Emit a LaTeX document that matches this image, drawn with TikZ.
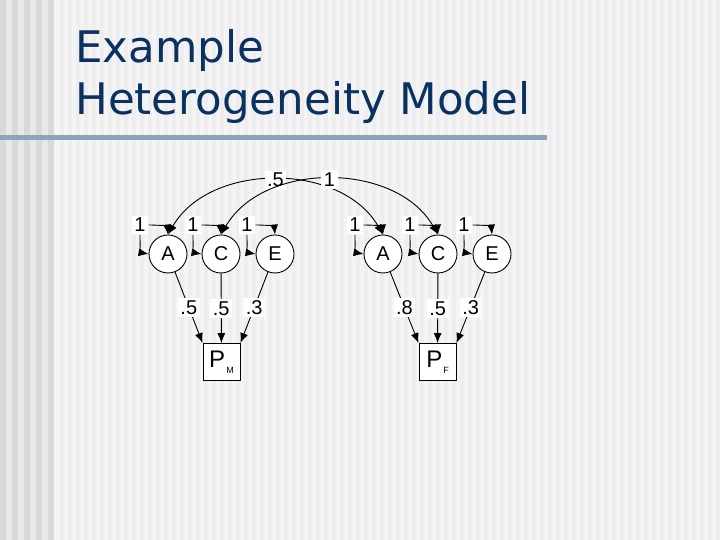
\documentclass[tikz,border=0pt]{standalone}
\usepackage{fontspec}
\setmainfont{Liberation Sans}
\newfontfamily\titlefont{DejaVu Sans}
\usetikzlibrary{arrows.meta,calc}

\definecolor{titleblue}{HTML}{0B3161}
\definecolor{rulegray}{HTML}{8EA3BC}
\definecolor{slidebg}{HTML}{F4F4F4}
\definecolor{stripe}{HTML}{EEEEEE}
\definecolor{sidelight}{HTML}{E8E8E8}
\definecolor{sidedark}{HTML}{D9D9D9}

\begin{document}
\begin{tikzpicture}[x=1pt,y=1pt,line width=0.9pt,
    >={Latex[length=10pt,width=8pt]},
    factor/.style={circle,draw,fill=white,minimum size=38pt,inner sep=0pt,font=\fontsize{20}{20}\selectfont},
    pheno/.style={rectangle,draw,fill=white,minimum width=37pt,minimum height=37pt,inner sep=0pt,font=\fontsize{24}{24}\selectfont},
    lbl/.style={fill=white,inner sep=2.5pt,font=\fontsize{20}{20}\selectfont},
    heading/.style={anchor=base west,inner sep=0pt,text=titleblue,font=\titlefont\fontsize{43.5}{52}\selectfont}]

    % slide background
    \fill[slidebg] (0,0) rectangle (720,540);
    \foreach \x in {60,68,...,716} \fill[stripe] (\x,0) rectangle ++(4,540);
    \fill[sidelight] (0,0) rectangle (53,540);
    \foreach \x in {0,12,...,48} \fill[sidedark] (\x,0) rectangle ++(6,540);
    \useasboundingbox (0,0) rectangle (720,540);

    % title
    \node[heading] (title1) at (75,477) {Example};
    \node[heading] (title2) at (75,425) {Heterogeneity Model};
    \fill[rulegray] (0,399.5) rectangle (547,405);

    % males
    \node[factor] (Am) at (168,286) {A};
    \node[factor] (Cm) at (221,286) {C};
    \node[factor] (Em) at (275,286) {E};
    \node[pheno] (Pm) at (221.5,178) {P\hspace{1pt}\raisebox{-6pt}{\fontsize{9}{9}\selectfont M}};

    % females
    \node[factor] (Af) at (383,286) {A};
    \node[factor] (Cf) at (438,286) {C};
    \node[factor] (Ef) at (492,286) {E};
    \node[pheno] (Pf) at (437.5,178) {P\hspace{1pt}\raisebox{-6pt}{\fontsize{9}{9}\selectfont F}};

    % variances
    \foreach \f in {Am,Cm,Em,Af,Cf,Ef} {
        \node[lbl] (v\f) at ($(\f)+(-28,29)$) {1};
        \draw[->] (v\f) to[out=-90,in=170] (\f.west);
        \draw[->] (v\f) to[out=0,in=95] (\f.north);
    }

    % cross-sex correlations
    \draw[<->] (Am.north) to[out=60,in=120] node[lbl,pos=0.5] {.5} (Af.north);
    \draw[<->] (Cm.north) to[out=60,in=120] node[lbl,pos=0.5] {1} (Cf.north);

    % paths
    \draw[->] (Am) -- (Pm.north west) node[lbl,midway] {.5};
    \draw[->] (Cm) -- (Pm) node[lbl,midway] {.5};
    \draw[->] (Em) -- (Pm.north east) node[lbl,midway] {.3};
    \draw[->] (Af) -- (Pf.north west) node[lbl,midway] {.8};
    \draw[->] (Cf) -- (Pf) node[lbl,midway] {.5};
    \draw[->] (Ef) -- (Pf.north east) node[lbl,midway] {.3};
\end{tikzpicture}
\end{document}
